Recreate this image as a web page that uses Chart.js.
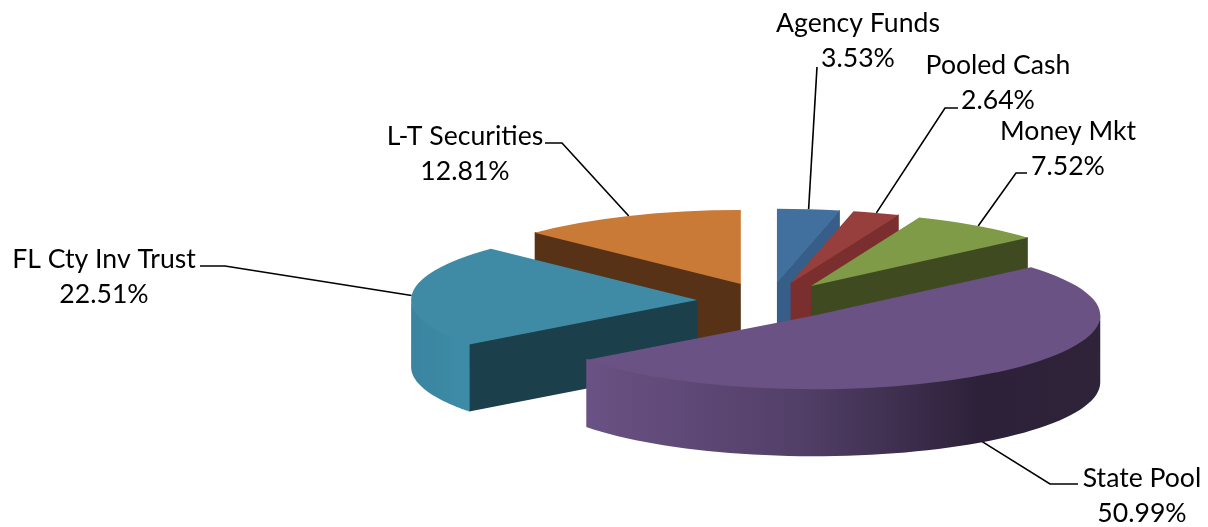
<!DOCTYPE html>
<html>
<head>
<meta charset="utf-8">
<script src="https://cdn.jsdelivr.net/npm/chart.js@4/dist/chart.umd.min.js"></script>
<style>
    html, body { margin: 0; padding: 0; background: #ffffff; }
    #holder { width: 1208px; height: 527px; }
</style>
</head>
<body>
<div id="holder"><canvas id="pie"></canvas></div>
<script>
'use strict';

// Chart data
const categories = ['Agency Funds', 'Pooled Cash', 'Money Mkt', 'State Pool', 'FL Cty Inv Trust', 'L-T Securities'];
const shares = [3.53, 2.64, 7.52, 50.99, 22.51, 12.81];

// Slice colours
const topColors = ['#41709f', '#973f3c', '#7f9b47', '#6a5284', '#3f8ba6', '#c97a37'];
const faceColors = ['#365e88', '#7a2f2e', '#3f4a21', '#2d2139', '#1b3f4b', '#573216'];
const wallStops = [
    [[0, '#365e88'], [1, '#365e88']],
    [[0, '#7a2f2e'], [1, '#7a2f2e']],
    [[0, '#3f4a21'], [1, '#3f4a21']],
    [[0, '#6a5284'], [0.1, '#6a5284'], [0.475, '#523f68'], [0.79, '#2d2139'], [1, '#2f2339']],
    [[0, '#3a84a0'], [0.1, '#3d8ca7'], [1, '#3d8ca7']],
    [[0, '#573216'], [1, '#573216']]
];

// Label layout: text centre, leader start, leader elbow, nudge on the slice end
const labelSpots = [
    { x: 858, y: 23, from: [817, 67], elbow: null, nudge: [0, 0] },
    { x: 998, y: 65, from: [958, 108], elbow: [945, 108], nudge: [0, 0] },
    { x: 1068, y: 131, from: [1027, 173], elbow: [1016, 173], nudge: [0, 0] },
    { x: 1142, y: 478, from: [1078, 484], elbow: [1050, 484], nudge: [-13, 68] },
    { x: 104, y: 259, from: [200, 266], elbow: [225, 266], nudge: [0, 0] },
    { x: 465, y: 136, from: [545, 143], elbow: [562, 143], nudge: [0, 0] }
];

// 3D look
const squash = 0.258;
const depth = 67;
const explode = 72;
const labelFont = '26.6px Lato, Carlito, sans-serif';
const labelGap = 35;

// Slice centre on screen after the explode
function sliceCentre(arc) {
    let mid = (arc.startAngle + arc.endAngle) / 2;
    return {
        x: arc.x + Math.cos(mid) * explode,
        y: arc.y + Math.sin(mid) * explode * squash
    };
}

// Point on the rim of a slice
function rimPoint(centre, radius, angle) {
    return {
        x: centre.x + Math.cos(angle) * radius,
        y: centre.y + Math.sin(angle) * radius * squash
    };
}

// Flat cut side of a slice, starts just under the top so no seam shows
function drawFace(ctx, centre, rim, color) {
    ctx.fillStyle = color;
    ctx.beginPath();
    ctx.moveTo(centre.x, centre.y - 0.8);
    ctx.lineTo(rim.x, rim.y - 0.8);
    ctx.lineTo(rim.x, rim.y + depth);
    ctx.lineTo(centre.x, centre.y + depth);
    ctx.closePath();
    ctx.fill();
}

// Rounded outer side of a slice, front half only
function drawWall(ctx, arc, centre, stops) {
    let start = Math.max(arc.startAngle, 0);
    let end = Math.min(arc.endAngle, Math.PI);
    if (end <= start) {
        return;
    }
    let paint = ctx.createLinearGradient(centre.x - arc.outerRadius, 0, centre.x + arc.outerRadius, 0);
    stops.forEach((stop) => paint.addColorStop(stop[0], stop[1]));
    ctx.fillStyle = paint;
    ctx.beginPath();
    for (let i = 0; i <= 60; i++) {
        let p = rimPoint(centre, arc.outerRadius, start + (end - start) * i / 60);
        ctx.lineTo(p.x, p.y - 1.2);
    }
    for (let i = 60; i >= 0; i--) {
        let p = rimPoint(centre, arc.outerRadius, start + (end - start) * i / 60);
        ctx.lineTo(p.x, p.y + depth);
    }
    ctx.closePath();
    ctx.fill();
}

// Leader lines from the labels to the slices
function drawLeaders(ctx, arcs) {
    ctx.strokeStyle = '#000000';
    ctx.lineWidth = 1.6;
    arcs.forEach((arc, i) => {
        let spot = labelSpots[i];
        let centre = sliceCentre(arc);
        let end = rimPoint(centre, arc.outerRadius, (arc.startAngle + arc.endAngle) / 2);
        ctx.beginPath();
        ctx.moveTo(spot.from[0], spot.from[1]);
        if (spot.elbow) {
            ctx.lineTo(spot.elbow[0], spot.elbow[1]);
        }
        ctx.lineTo(end.x + spot.nudge[0], end.y + spot.nudge[1]);
        ctx.stroke();
    });
}

// Draws the exploded slices with their sides, back to front
const pie3d = {
    id: 'pie3d',
    beforeDatasetDraw(chart, args) {
        let ctx = chart.ctx;
        let arcs = args.meta.data;
        let order = arcs.map((arc, i) => i).sort((a, b) => {
            let midA = (arcs[a].startAngle + arcs[a].endAngle) / 2;
            let midB = (arcs[b].startAngle + arcs[b].endAngle) / 2;
            return Math.sin(midA) - Math.sin(midB);
        });

        ctx.save();
        drawLeaders(ctx, arcs);

        order.forEach((i) => {
            let arc = arcs[i];
            let centre = sliceCentre(arc);

            // Sides first, the top goes over them. Only the lower cut faces the viewer,
            // and a slice over half the pie shows no cut at all
            if (arc.endAngle - arc.startAngle < Math.PI) {
                let sides = [
                    rimPoint(centre, arc.outerRadius, arc.startAngle),
                    rimPoint(centre, arc.outerRadius, arc.endAngle)
                ].sort((a, b) => a.y - b.y);
                drawFace(ctx, centre, sides[1], faceColors[i]);
            }
            drawWall(ctx, arc, centre, wallStops[i]);

            // Top through the library's own arc element
            ctx.save();
            ctx.translate(centre.x, centre.y);
            ctx.scale(1, squash);
            ctx.translate(-arc.x, -arc.y);
            arc.draw(ctx);
            ctx.restore();
        });
        ctx.restore();
        return false;
    },
    afterDraw(chart) {
        let ctx = chart.ctx;
        ctx.save();
        ctx.font = labelFont;
        ctx.fillStyle = '#000000';
        ctx.textAlign = 'center';
        ctx.textBaseline = 'middle';
        categories.forEach((name, i) => {
            let spot = labelSpots[i];
            ctx.fillText(name, spot.x, spot.y);
            ctx.fillText(shares[i].toFixed(2) + '%', spot.x, spot.y + labelGap);
        });
        ctx.restore();
    }
};

// Build chart
new Chart(document.getElementById('pie').getContext('2d'), {
    type: 'pie',
    data: {
        labels: categories,
        datasets: [{
            data: shares,
            backgroundColor: topColors,
            borderWidth: 0
        }]
    },
    options: {
        responsive: true,
        maintainAspectRatio: false,
        animation: false,
        radius: 286,
        layout: {
            padding: { left: 330, top: 75 }
        },
        plugins: {
            legend: { display: false },
            tooltip: { enabled: false }
        }
    },
    plugins: [pie3d]
});
</script>
</body>
</html>
